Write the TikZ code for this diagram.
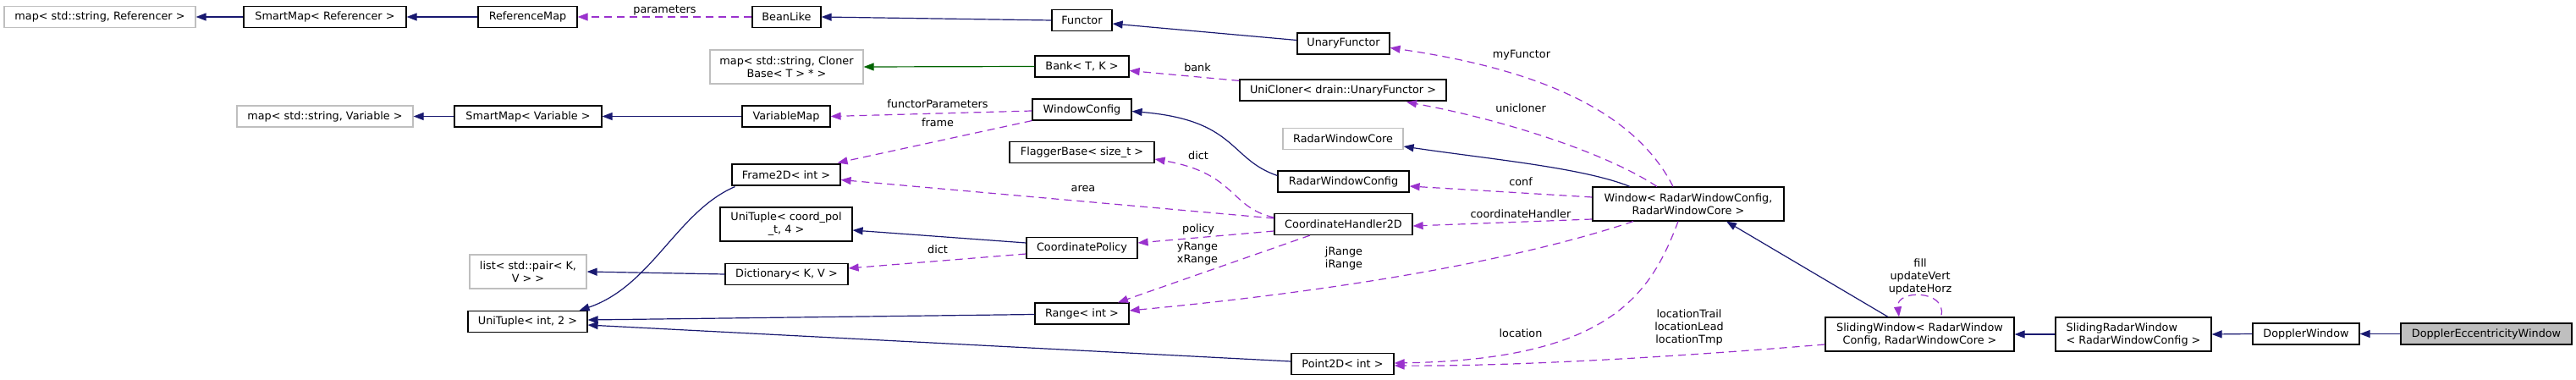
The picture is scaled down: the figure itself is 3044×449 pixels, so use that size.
\documentclass[tikz,border=0pt]{standalone}
\usepackage{fontspec}
\setmainfont{DejaVu Sans}
\usetikzlibrary{arrows.meta,calc}
\definecolor{navy}{RGB}{25,25,112}
\definecolor{orchid}{RGB}{154,50,205}
\definecolor{dgreen}{RGB}{0,100,0}
\definecolor{lgray}{RGB}{191,191,191}
\begin{document}
\begin{tikzpicture}[x=1pt,y=-1pt,
  box/.style={draw=black, line width=1.2pt, fill=white, inner sep=0pt, minimum height=25pt,
    font=\fontsize{12.8}{15}\selectfont, align=center},
  ext/.style={box, draw=lgray},
  tall/.style={minimum height=40pt},
  inh/.style={draw=navy, color=navy, line width=1.2pt, -{Triangle[length=12pt,width=9pt]}},
  tmpl/.style={draw=dgreen, color=dgreen, line width=1.2pt, -{Triangle[length=12pt,width=9pt]}},
  use/.style={draw=orchid, color=orchid, line width=1.2pt, dash pattern=on 9pt off 6pt, -{Triangle[length=12pt,width=9pt]}},
  lbl/.style={font=\fontsize{12.8}{15}\selectfont, inner sep=0pt, align=center, text=black}]
\useasboundingbox (0,0) rectangle (3044,449);

% nodes
\node[ext, minimum width=226pt] (mapRef) at (118,20) {map< std::string, Referencer >};
\node[box, minimum width=192pt] (smRef) at (384,20) {SmartMap< Referencer >};
\node[box, minimum width=117pt] (refMap) at (623.5,20) {ReferenceMap};
\node[box, minimum width=81pt] (beanLike) at (929.5,20) {BeanLike};
\node[box, minimum width=71pt] (functor) at (1278.5,24) {Functor};
\node[box, minimum width=109pt] (unaryFunctor) at (1587.5,51.5) {UnaryFunctor};
\node[ext, tall, minimum width=181pt] (mapCloner) at (929.5,79) {map< std::string, Cloner\\Base< T > * >};
\node[box, minimum width=111pt] (bank) at (1278.5,78.5) {Bank< T, K >};
\node[box, minimum width=244pt] (uniCloner) at (1587,106.5) {UniCloner< drain::UnaryFunctor >};
\node[ext, minimum width=208pt] (mapVar) at (384,137.5) {map< std::string, Variable >};
\node[box, minimum width=174pt] (smVar) at (624,137.5) {SmartMap< Variable >};
\node[box, minimum width=104pt] (varMap) at (929,137.5) {VariableMap};
\node[box, minimum width=117pt] (windowConfig) at (1278.5,129.5) {WindowConfig};
\node[ext, minimum width=142pt] (radarCore) at (1587,164) {RadarWindowCore};
\node[box, minimum width=171pt] (flagger) at (1278.5,180) {FlaggerBase< size\_t >};
\node[box, minimum width=155pt] (radarConfig) at (1587.5,214.5) {RadarWindowConfig};
\node[box, minimum width=128pt] (frame2D) at (929,206.5) {Frame2D< int >};
\node[box, minimum width=163pt] (coordHandler) at (1587.5,265) {CoordinateHandler2D};
\node[box, tall, minimum width=156pt] (uniTupleCP) at (929,265) {UniTuple< coord\_pol\\\_t, 4 >};
\node[box, minimum width=131pt] (coordPolicy) at (1278.5,293) {CoordinatePolicy};
\node[box, minimum width=145pt] (dictionary) at (929.5,324) {Dictionary< K, V >};
\node[box, minimum width=111pt] (range) at (1278.5,370.5) {Range< int >};
\node[box, minimum width=121pt] (point2D) at (1586.5,430) {Point2D< int >};
\node[ext, tall, minimum width=138pt] (listPair) at (624,321) {list< std::pair< K,\\V > >};
\node[box, minimum width=141pt] (uniTuple2) at (623.5,380) {UniTuple< int, 2 >};
\node[box, tall, minimum width=226pt] (window) at (1995,241) {Window< RadarWindowConfig,\\RadarWindowCore >};
\node[box, tall, minimum width=223pt] (slidingWindow) at (2268.5,395) {SlidingWindow< RadarWindow\\Config, RadarWindowCore >};
\node[box, tall, minimum width=184pt, align=left] (slidingRadar) at (2521,395) {SlidingRadarWindow\\< RadarWindowConfig >};
\node[box, minimum width=126pt] (dopplerWindow) at (2725,394.5) {DopplerWindow};
\node[box, fill=lgray, minimum width=202pt] (dopplerEcc) at (2938,394.5) {DopplerEccentricityWindow};

% inheritance edges
\draw[inh] (smRef.west) -- (mapRef.east);
\draw[inh] (refMap.west) -- (smRef.east);
\draw[inh] (functor.west) -- (beanLike.east);
\draw[inh] ($(unaryFunctor.west)+(0,-4)$) -- ($(functor.east)+(0,4)$);
\draw[tmpl] (bank.west) -- (mapCloner.east);
\draw[inh] (smVar.west) -- (mapVar.east);
\draw[inh] (varMap.west) -- (smVar.east);
\draw[inh] ($(radarConfig.west)+(0,-7)$) .. controls (1452,188) and (1462,142) .. ($(windowConfig.east)+(0,2)$);
\draw[inh] ($(window.north)+(-69,0)$) .. controls (1870,198) and (1760,188) .. ($(radarCore.east)+(0,9)$);
\draw[inh] ($(slidingWindow.north)+(-37.5,0)$) -- ($(window.south)+(45,0)$);
\draw[inh] (slidingRadar.west) -- (slidingWindow.east);
\draw[inh] (dopplerWindow.west) -- (slidingRadar.east);
\draw[inh] (dopplerEcc.west) -- (dopplerWindow.east);
\draw[inh] ($(coordPolicy.west)+(0,-6)$) -- ($(uniTupleCP.east)+(0,7)$);
\draw[inh] (dictionary.west) -- (listPair.east);
\draw[inh] ($(frame2D.south west)+(4,1)$) .. controls (800,250) and (770,338) .. ($(uniTuple2.north east)+(-10,0)$);
\draw[inh] ($(range.west)+(0,1)$) -- ($(uniTuple2.east)+(0,-2)$);
\draw[inh] ($(point2D.west)+(0,-3)$) -- ($(uniTuple2.east)+(0,4)$);

% usage edges
\draw[use] (beanLike.west) -- node[lbl, pos=0.5, yshift=8pt] {parameters} (refMap.east);
\draw[use] ($(uniCloner.north west)+(0,2)$) -- ($(bank.east)+(0,5)$);
\node[lbl] (lBank) at (1415,80) {bank};
\draw[use] ($(windowConfig.west)+(0,1.5)$) -- (varMap.east);
\node[lbl] (lFP) at (1108,123) {functorParameters};
\draw[use] (windowConfig.south west) -- ($(frame2D.north east)+(-4,-1)$);
\node[lbl] (lFrame) at (1108,145) {frame};
\draw[use] ($(window.north)+(-18,0)$) .. controls (1932,132) and (1820,82) .. ($(unaryFunctor.east)+(0,5)$);
\node[lbl] (lMyF) at (1798,65) {myFunctor};
\draw[use] ($(window.north)+(-37,0)$) .. controls (1900,182) and (1780,142) .. ($(uniCloner.south)+(75,1)$);
\node[lbl] (lUni) at (1797,128) {unicloner};
\draw[use] ($(window.west)+(0,-8)$) -- ($(radarConfig.east)+(0,5.5)$);
\node[lbl] (lConf) at (1797,215) {conf};
\draw[use] ($(window.west)+(0,18)$) -- ($(coordHandler.east)+(0,2)$);
\node[lbl] (lCH) at (1797,253) {coordinateHandler};
\draw[use] ($(window.south)+(-65,0)$) .. controls (1800,305) and (1600,342) .. ($(range.east)+(0,-3.5)$);
\node[lbl] (lJR) at (1588,305) {jRange\\iRange};
\draw[use] ($(window.south)+(-12,0)$) .. controls (1950,350) and (1900,425) .. ($(point2D.east)+(0,-1)$);
\node[lbl] (lLoc) at (1797,394) {location};
\draw[use] ($(slidingWindow.west)+(0,12)$) .. controls (2000,420) and (1800,433) .. ($(point2D.east)+(0,2)$);
\node[lbl] (lLT) at (1996,387) {locationTrail\\locationLead\\locationTmp};
\draw[use] ($(slidingWindow.north)+(25.5,-2)$) .. controls (2300,342) and (2240,342) .. ($(slidingWindow.north)+(-24.5,0)$);
\node[lbl] (lFill) at (2269,327) {fill\\updateVert\\updateHorz};
\draw[use] ($(coordHandler.west)+(0,-8)$) .. controls (1452,245) and (1462,205) .. ($(flagger.east)+(0,8)$);
\node[lbl] (lDict1) at (1416,184) {dict};
\draw[use] ($(coordHandler.west)+(0,-7)$) -- ($(frame2D.east)+(0,6)$);
\node[lbl] (lArea) at (1280,223) {area};
\draw[use] ($(coordHandler.west)+(0,8)$) -- ($(coordPolicy.east)+(0,-6)$);
\node[lbl] (lPol) at (1416,271) {policy};
\draw[use] ($(coordHandler.south)+(-39.5,0)$) -- ($(range.north)+(42.5,0)$);
\node[lbl] (lYR) at (1415,300) {yRange\\xRange};
\draw[use] ($(coordPolicy.west)+(0,7)$) -- ($(dictionary.east)+(0,-7)$);
\node[lbl] (lDict2) at (1108,295) {dict};
\end{tikzpicture}
\end{document}
